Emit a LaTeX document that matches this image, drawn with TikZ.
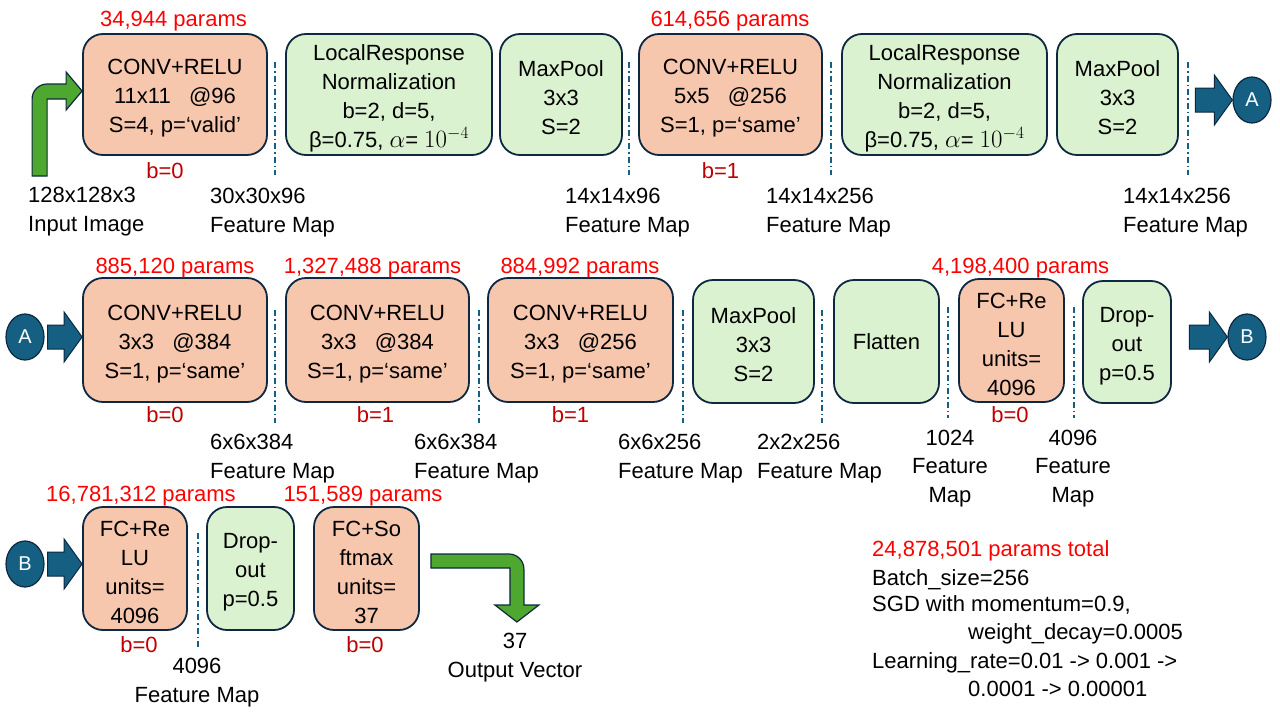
\documentclass[tikz,border=0pt]{standalone}
\usepackage{fontspec}
\setmainfont{Liberation Sans}
\usetikzlibrary{calc,shapes.geometric}
\definecolor{salmon}{HTML}{F6C6AD}
\definecolor{lgreen}{HTML}{DAF2D0}
\definecolor{bord}{HTML}{0E2841}
\definecolor{accblue}{HTML}{156082}
\definecolor{accgreen}{HTML}{4EA72E}
\definecolor{pred}{HTML}{FF0000}
\definecolor{bred}{HTML}{C00000}
\newcommand\boxstrut{\rule{0pt}{23pt}}
\tikzset{
  layerbox/.style={draw=bord, line width=1.8pt, rounded corners=20pt, inner sep=0pt, align=center},
  convbox/.style={layerbox, fill=salmon},
  poolbox/.style={layerbox, fill=lgreen},
  prm/.style={text=pred, inner sep=0pt, anchor=base},
  bias/.style={text=bred, inner sep=0pt, anchor=base},
  lbl/.style={inner sep=0pt, anchor=base west},
  clbl/.style={inner sep=0pt, anchor=base},
  conn/.style={ellipse, draw=bord, line width=1.2pt, fill=accblue, text=white, inner sep=0pt,
    minimum width=38pt, minimum height=46pt, font=\fontsize{20}{24}\selectfont},
  sepline/.style={accblue, line width=1.8pt, dash pattern=on 6pt off 3pt on 1.5pt off 3pt},
  blkarrow/.style={fill=accblue, draw=bord, line width=1pt, line join=miter},
  grnarrow/.style={fill=accgreen, draw=bord, line width=1.2pt, line join=miter}
}
\newcommand\blockarr[2]{%
  \draw[blkarrow] ($(#1)+(0,-12)$) -- ($(#2)+(-18,-12)$) -- ($(#2)+(-18,-25)$) -- (#2)
    -- ($(#2)+(-18,25)$) -- ($(#2)+(-18,12)$) -- ($(#1)+(0,12)$) -- cycle;}
\newcommand\lrnalpha{β=0.75, {\fontsize{24}{29}\selectfont$\alpha$}= {\fontsize{24}{29}\selectfont$10^{-4}$}}
\begin{document}
\begin{tikzpicture}[x=1pt, y=-1pt, font=\fontsize{22}{29}\selectfont]
\fill[white] (0,0) rectangle (1280,720);
\useasboundingbox (0,0) rectangle (1280,720);

% ---------------- Row 1 ----------------
\node[convbox, minimum width=184pt, minimum height=121pt] (c1) at (175,94.5) {\boxstrut CONV+RELU\\11x11~~~@96\\S=4, p=‘valid’};
\node[poolbox, minimum width=206pt, minimum height=121pt] (lrn1) at (389,94.5) {\boxstrut LocalResponse\\Normalization\\b=2, d=5,\\\lrnalpha};
\node[poolbox, minimum width=122pt, minimum height=121pt] (mp1) at (561,94.5) {\boxstrut MaxPool\\3x3\\S=2};
\node[convbox, minimum width=183pt, minimum height=121pt] (c2) at (730.5,94.5) {\boxstrut CONV+RELU\\5x5~~~@256\\S=1, p=‘same’};
\node[poolbox, minimum width=205pt, minimum height=121pt] (lrn2) at (944.5,94.5) {\boxstrut LocalResponse\\Normalization\\b=2, d=5,\\\lrnalpha};
\node[poolbox, minimum width=121pt, minimum height=121pt] (mp2) at (1117.5,94.5) {\boxstrut MaxPool\\3x3\\S=2};
\node[conn] (A1) at (1252,100) {A};

\node[prm] (p1) at (173.5,27) {34,944 params};
\node[prm] (p2) at (730,27) {614,656 params};
\node[bias] (b1) at (165,178) {b=0};
\node[bias] (b2) at (720.5,178) {b=1};

\foreach \x in {275,629,831,1188} \draw[sepline] (\x,62) -- (\x,175);

\node[lbl] (f1a) at (28,202) {128x128x3};
\node[lbl] (f1b) at (28,231) {Input Image};
\node[lbl] (f2a) at (210,203) {30x30x96};
\node[lbl] (f2b) at (210,232) {Feature Map};
\node[lbl] (f3a) at (565,203) {14x14x96};
\node[lbl] (f3b) at (565,232) {Feature Map};
\node[lbl] (f4a) at (766,203) {14x14x256};
\node[lbl] (f4b) at (766,232) {Feature Map};
\node[lbl] (f5a) at (1123,203) {14x14x256};
\node[lbl] (f5b) at (1123,232) {Feature Map};

% input bent arrow
\begin{scope}[shift={(c1.west)}]
\draw[grnarrow] (-50,81.5) -- (-50,4.5) .. controls (-50,-3.8) and (-43.3,-10.5) .. (-35,-10.5)
  -- (-16,-10.5) -- (-16,-22.5) -- (0,-3.5) -- (-16,15.5) -- (-16,4.5) -- (-35,4.5) -- (-35,81.5) -- cycle;
\end{scope}
% arrow to A
\coordinate (t1) at ($(A1.west)+(-37,0)$);
\blockarr{t1}{A1.west}

% ---------------- Row 2 ----------------
\node[conn] (A2) at (25,337) {A};
\node[convbox, minimum width=184pt, minimum height=124pt] (c3) at (175,340) {\boxstrut CONV+RELU\\3x3~~~@384\\S=1, p=‘same’};
\node[convbox, minimum width=183pt, minimum height=124pt] (c4) at (377.5,340) {\boxstrut CONV+RELU\\3x3~~~@384\\S=1, p=‘same’};
\node[convbox, minimum width=185pt, minimum height=124pt] (c5) at (580.5,340) {\boxstrut CONV+RELU\\3x3~~~@256\\S=1, p=‘same’};
\node[poolbox, minimum width=121pt, minimum height=123pt] (mp3) at (753.5,341.5) {\boxstrut MaxPool\\3x3\\S=2};
\node[poolbox, minimum width=105pt, minimum height=123pt] (fl) at (886.5,341.5) {Flatten};
\node[convbox, minimum width=105pt, minimum height=123pt] (fc1) at (1011.5,340.5) {\boxstrut FC+Re\\LU\\units=\\4096};
\node[poolbox, minimum width=88pt, minimum height=122pt] (do1) at (1127,342) {\boxstrut Drop-\\out\\p=0.5};
\node[conn] (B1) at (1247,337) {B};

\coordinate (t2) at ($(A2.east)+(3,0)$);
\coordinate (h2) at (c3.west |- A2.east);
\blockarr{t2}{h2}
\coordinate (t3) at ($(B1.west)+(-38,0)$);
\blockarr{t3}{B1.west}

\node[prm] (p3) at (175,273) {885,120 params};
\node[prm] (p4) at (372.5,273) {1,327,488 params};
\node[prm] (p5) at (580,273) {884,992 params};
\node[prm] (p6) at (1020.5,273) {4,198,400 params};
\node[bias] (b3) at (165,422) {b=0};
\node[bias] (b4) at (375.5,422) {b=1};
\node[bias] (b5) at (570.5,422) {b=1};
\node[bias] (b6) at (1010,422) {b=0};

\foreach \x in {275,479,683,822} \draw[sepline] (\x,310) -- (\x,423);
\foreach \x in {948,1074} \draw[sepline] (\x,307) -- (\x,418);

\node[lbl] (g1a) at (210,449) {6x6x384};
\node[lbl] (g1b) at (210,478) {Feature Map};
\node[lbl] (g2a) at (414,449) {6x6x384};
\node[lbl] (g2b) at (414,478) {Feature Map};
\node[lbl] (g3a) at (618,449) {6x6x256};
\node[lbl] (g3b) at (618,478) {Feature Map};
\node[lbl] (g4a) at (757,449) {2x2x256};
\node[lbl] (g4b) at (757,478) {Feature Map};
\node[clbl] (g5a) at (950,445) {1024};
\node[clbl] (g5b) at (950,473) {Feature};
\node[clbl] (g5c) at (950,502) {Map};
\node[clbl] (g6a) at (1073,445) {4096};
\node[clbl] (g6b) at (1073,473) {Feature};
\node[clbl] (g6c) at (1073,502) {Map};

% ---------------- Row 3 ----------------
\node[conn] (B2) at (25,564) {B};
\node[convbox, minimum width=104pt, minimum height=123pt] (fc2) at (135,568.5) {\boxstrut FC+Re\\LU\\units=\\4096};
\node[poolbox, minimum width=87pt, minimum height=123pt] (do2) at (250.5,568.5) {\boxstrut Drop-\\out\\p=0.5};
\node[convbox, minimum width=105pt, minimum height=123pt] (fc3) at (366.5,568.5) {\boxstrut FC+So\\ftmax\\units=\\37};

\coordinate (t4) at ($(B2.east)+(3,0)$);
\coordinate (h4) at (fc2.west |- B2.east);
\blockarr{t4}{h4}

\node[prm] (p7) at (141,501) {16,781,312 params};
\node[prm] (p8) at (363,501) {151,589 params};
\node[bias] (b7) at (139,652) {b=0};
\node[bias] (b8) at (365,652) {b=0};

\draw[sepline] (198,533) -- (198,647);

\node[clbl] (h1a) at (197,673) {4096};
\node[clbl] (h1b) at (197,702) {Feature Map};

% output bent arrow
\begin{scope}[shift={(fc3.east)}]
\draw[grnarrow] (11,-14.5) -- (89,-14.5) .. controls (97.3,-14.5) and (104,-7.8) .. (104,0.5)
  -- (104,36.5) -- (119,36.5) -- (97,53.5) -- (75,36.5) -- (90,36.5) -- (90,-0.5) -- (11,-0.5) -- cycle;
\end{scope}
\node[clbl] (o1) at (515,648) {37};
\node[clbl] (o2) at (515,677) {Output Vector};

% ---------------- Summary ----------------
\node[lbl, text=pred] (s1) at (872,556) {24,878,501 params total};
\node[lbl] (s2) at (872,585) {Batch\_size=256};
\node[lbl] (s3) at (872,611) {SGD with momentum=0.9,};
\node[lbl] (s4) at (968,639) {weight\_decay=0.0005};
\node[lbl] (s5) at (872,668) {Learning\_rate=0.01 -> 0.001 ->};
\node[lbl] (s6) at (968,696) {0.0001 -> 0.00001};
\end{tikzpicture}
\end{document}
